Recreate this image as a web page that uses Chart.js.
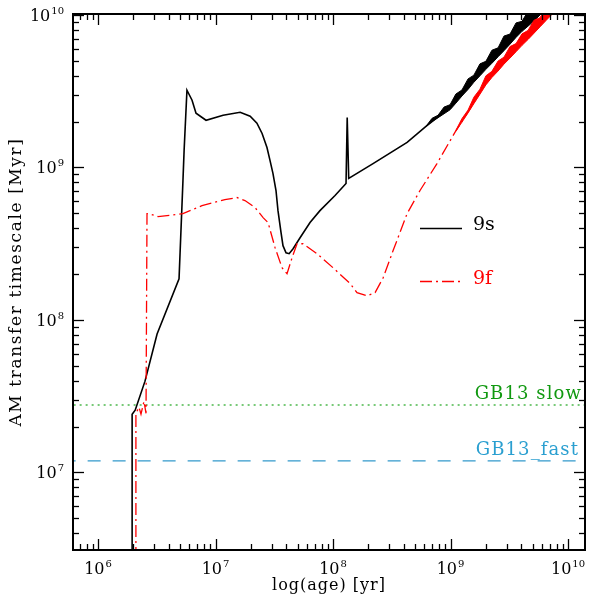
<!DOCTYPE html>
<html>
<head>
<meta charset="utf-8">
<script src="https://cdn.jsdelivr.net/npm/chart.js@4/dist/chart.umd.min.js"></script>
<style>
  html, body { margin: 0; padding: 0; background: #fff; }
  canvas { display: block; }
</style>
</head>
<body>
<canvas id="chart" width="589" height="601"></canvas>
<script>
// axis ranges
const xMin = 6.12e5, xMax = 1.395e10;
const yMin = 3.1e6, yMax = 1.015e10;
const xTickExps = [6, 7, 8, 9, 10];
const yTickExps = [7, 8, 9, 10];

// 9s (black, solid)
const age9s = [1.95e6, 1.95e6, 2.07e6, 2.51e6, 3.18e6, 4.89e6, 5.28e6, 5.4e6, 5.71e6, 6.31e6,
  6.82e6, 8.3e6, 1.16e7, 1.62e7, 1.97e7, 2.25e7, 2.49e7, 2.74e7, 2.91e7, 3.08e7,
  3.27e7, 3.4e7, 3.61e7, 3.75e7, 3.98e7, 4.23e7, 4.57e7, 5.24e7, 6.37e7, 7.74e7,
  1.04e8, 1.29e8, 1.32e8, 1.36e8, 2.19e8, 4.27e8, 6.18e8, 9.91e8, 1.58e9, 2.54e9,
  3.61e9, 5.14e9, 6.37e9];
const tau9s = [1e6, 2.41e7, 2.56e7, 3.97e7, 8.09e7, 1.86e8, 8.2e8, 1.29e9, 3.21e9, 2.76e9,
  2.27e9, 2.04e9, 2.2e9, 2.3e9, 2.17e9, 1.95e9, 1.67e9, 1.35e9, 1.11e9, 9.14e8,
  7.06e8, 5.21e8, 3.74e8, 3.07e8, 2.76e8, 2.72e8, 2.93e8, 3.46e8, 4.35e8, 5.21e8,
  6.55e8, 7.85e8, 2.13e9, 8.47e8, 1.06e9, 1.46e9, 1.86e9, 2.48e9, 3.82e9, 5.69e9,
  7.69e9, 9.86e9, 1.16e10];

// 9s noisy band at late times
const band9sAge = [6.18e8, 6.96e8, 7.83e8, 8.81e8, 9.91e8, 1.11e9, 1.25e9, 1.41e9, 1.58e9, 1.78e9,
  2.0e9, 2.25e9, 2.54e9, 2.85e9, 3.21e9, 3.61e9, 4.06e9, 4.57e9, 5.14e9, 5.78e9];
const band9sHi = [1.86e9, 2.1e9, 2.2e9, 2.49e9, 2.58e9, 3.03e9, 3.22e9, 3.81e9, 4.03e9, 4.78e9,
  4.97e9, 5.87e9, 6.09e9, 7.27e9, 7.5e9, 8.87e9, 9.09e9, 1.06e10, 1.06e10, 1.26e10];
const band9sLo = [1.86e9, 2.0e9, 2.12e9, 2.25e9, 2.39e9, 2.64e9, 2.94e9, 3.25e9, 3.62e9, 3.99e9,
  4.4e9, 4.82e9, 5.32e9, 5.83e9, 6.44e9, 7.13e9, 7.81e9, 8.45e9, 9.15e9, 1e10];

// 9f (red, dash-dot)
const age9f = [2.1e6, 2.1e6, 2.23e6, 2.32e6, 2.46e6, 2.56e6, 2.61e6, 2.72e6, 3.24e6, 5.28e6,
  7.67e6, 1.2e7, 1.52e7, 1.78e7, 2.17e7, 2.54e7, 2.8e7, 3.21e7, 3.68e7, 4.06e7,
  4.48e7, 4.94e7, 5.56e7, 7.31e7, 1e8, 1.4e8, 1.6e8, 1.95e8, 2.28e8, 2.67e8,
  3.24e8, 4.27e8, 5.5e8, 7.67e8, 1.09e9, 1.47e9, 2.05e9, 3.03e9, 4.48e9, 6.37e9, 7.74e9];
const tau9f = [1e6, 2.44e7, 2.68e7, 2.41e7, 2.93e7, 2.44e7, 4.98e8, 4.98e8, 4.76e8, 4.98e8,
  5.62e8, 6.15e8, 6.35e8, 6.07e8, 5.46e8, 4.69e8, 4.35e8, 2.98e8, 2.2e8, 2.01e8,
  2.56e8, 3.16e8, 3.16e8, 2.72e8, 2.2e8, 1.73e8, 1.51e8, 1.44e8, 1.51e8, 1.89e8,
  2.84e8, 4.98e8, 7.06e8, 1.06e9, 1.7e9, 2.44e9, 3.73e9, 5.3e9, 7.28e9, 9.7e9, 1.13e10];

const band9fAge = [1.11e9, 1.25e9, 1.41e9, 1.58e9, 1.78e9, 2.0e9, 2.25e9, 2.54e9, 2.85e9, 3.21e9,
  3.61e9, 4.06e9, 4.57e9, 5.14e9, 5.78e9, 6.5e9, 7.31e9];
const band9fHi = [1.75e9, 2.09e9, 2.38e9, 2.89e9, 3.26e9, 3.99e9, 4.27e9, 4.99e9, 5.29e9, 6.21e9,
  6.49e9, 7.52e9, 7.92e9, 9.25e9, 9.59e9, 1.12e10, 1.15e10];
const band9fLo = [1.73e9, 1.98e9, 2.28e9, 2.62e9, 3.02e9, 3.48e9, 3.89e9, 4.29e9, 4.76e9, 5.22e9,
  5.74e9, 6.32e9, 6.91e9, 7.6e9, 8.36e9, 9.2e9, 1.01e10];

// reference timescales
const gb13Slow = 2.77e7;
const gb13Fast = 1.19e7;

const pts = (xs, ys) => xs.map((v, i) => ({ x: v, y: ys[i] }));
const hline = (v) => [{ x: xMin / 2, y: v }, { x: xMax * 2, y: v }];

function drawPow(ctx, exp, x, y, align) {
  ctx.font = '16px "DejaVu Serif"';
  const wb = ctx.measureText('10').width;
  ctx.font = '10px "DejaVu Serif"';
  const we = ctx.measureText(String(exp)).width;
  const w = wb + we + 1;
  const left = align === 'right' ? x - w : x - w / 2;
  ctx.textAlign = 'left';
  ctx.textBaseline = 'alphabetic';
  ctx.font = '16px "DejaVu Serif"';
  ctx.fillText('10', left, y);
  ctx.font = '10px "DejaVu Serif"';
  ctx.fillText(String(exp), left + wb + 1, y - 7);
}

const frame = {
  id: 'frame',
  afterDraw(chart) {
    const { ctx, chartArea: a, scales } = chart;
    const sx = scales.x, sy = scales.y;
    ctx.save();
    ctx.strokeStyle = '#000';
    ctx.fillStyle = '#000';
    ctx.lineWidth = 1.3;
    const seg = (x1, y1, x2, y2) => {
      ctx.beginPath(); ctx.moveTo(x1, y1); ctx.lineTo(x2, y2); ctx.stroke();
    };
    for (let d = 5; d <= 10; d++) {
      for (let m = 1; m <= 9; m++) {
        const v = m * Math.pow(10, d);
        const len = m === 1 ? 11 : 6;
        if (v > xMin && v < xMax) {
          const px = Math.round(sx.getPixelForValue(v)) + 0.5;
          seg(px, a.bottom, px, a.bottom - len);
          seg(px, a.top, px, a.top + len);
        }
        if (v > yMin && v < yMax) {
          const py = Math.round(sy.getPixelForValue(v)) + 0.5;
          seg(a.left, py, a.left + len, py);
          seg(a.right, py, a.right - len, py);
        }
      }
    }
    ctx.lineWidth = 2;
    ctx.strokeRect(a.left, a.top, a.right - a.left, a.bottom - a.top);

    // tick labels
    for (const e of xTickExps) {
      drawPow(ctx, e, sx.getPixelForValue(Math.pow(10, e)), a.bottom + 24, 'center');
    }
    for (const e of yTickExps) {
      drawPow(ctx, e, a.left - 9, sy.getPixelForValue(Math.pow(10, e)) + 6, 'right');
    }

    // axis titles
    ctx.textAlign = 'center';
    ctx.textBaseline = 'alphabetic';
    ctx.font = '16px "DejaVu Serif"';
    ctx.letterSpacing = '1px';
    ctx.fillText('log(age) [yr]', (a.left + a.right) / 2, 590);
    ctx.save();
    ctx.translate(21, (a.top + a.bottom) / 2);
    ctx.rotate(-Math.PI / 2);
    ctx.font = '17px "DejaVu Serif"';
    ctx.letterSpacing = '1.6px';
    ctx.fillText('AM transfer timescale [Myr]', 0, 0);
    ctx.restore();
    ctx.letterSpacing = '0px';

    // legend
    ctx.lineWidth = 1.3;
    ctx.strokeStyle = '#000';
    seg(420, 228.5, 462, 228.5);
    ctx.strokeStyle = '#ff0000';
    ctx.setLineDash([12, 4, 2, 4]);
    seg(420, 281.5, 462, 281.5);
    ctx.setLineDash([]);
    ctx.font = '19px "DejaVu Serif"';
    ctx.textAlign = 'left';
    ctx.fillStyle = '#000';
    ctx.fillText('9s', 473, 230);
    ctx.fillStyle = '#ff0000';
    ctx.fillText('9f', 473, 284);

    // reference line labels
    ctx.font = '18px "DejaVu Serif"';
    ctx.letterSpacing = '1.1px';
    ctx.textAlign = 'right';
    ctx.fillStyle = '#119911';
    ctx.fillText('GB13 slow', 582, 399);
    ctx.fillStyle = '#2a9fd0';
    ctx.fillText('GB13_fast', 579, 455);
    ctx.restore();
  }
};

new Chart(document.getElementById('chart'), {
  type: 'scatter',
  data: {
    datasets: [
      { data: pts(band9fAge, band9fLo), showLine: true, borderColor: '#ff0000', borderWidth: 1, fill: false, order: 1 },
      { data: pts(band9fAge, band9fHi), showLine: true, borderColor: '#ff0000', borderWidth: 1, fill: '-1', backgroundColor: '#ff0000', order: 1 },
      { data: pts(age9f, tau9f), showLine: true, borderColor: '#ff0000', borderWidth: 1.3, borderDash: [12, 4, 2, 4], order: 2 },
      { data: pts(band9sAge, band9sLo), showLine: true, borderColor: '#000', borderWidth: 1, fill: false, order: 3 },
      { data: pts(band9sAge, band9sHi), showLine: true, borderColor: '#000', borderWidth: 1, fill: '-1', backgroundColor: '#000', order: 3 },
      { data: pts(age9s, tau9s), showLine: true, borderColor: '#000', borderWidth: 1.6, order: 4 },
      { data: hline(gb13Slow), showLine: true, borderColor: '#4cb84c', borderWidth: 1.6, borderDash: [2, 4], order: 5 },
      { data: hline(gb13Fast), showLine: true, borderColor: '#3399cc', borderWidth: 1.3, borderDash: [13, 12], order: 6 },
    ],
  },
  options: {
    responsive: false,
    animation: false,
    layout: { padding: { left: 73, top: 14, right: 4, bottom: 51 } },
    elements: { point: { radius: 0, hoverRadius: 0 }, line: { tension: 0 } },
    scales: {
      x: { type: 'logarithmic', min: xMin, max: xMax, display: false },
      y: { type: 'logarithmic', min: yMin, max: yMax, display: false },
    },
    plugins: { legend: { display: false }, tooltip: { enabled: false } },
  },
  plugins: [frame],
});
</script>
</body>
</html>
